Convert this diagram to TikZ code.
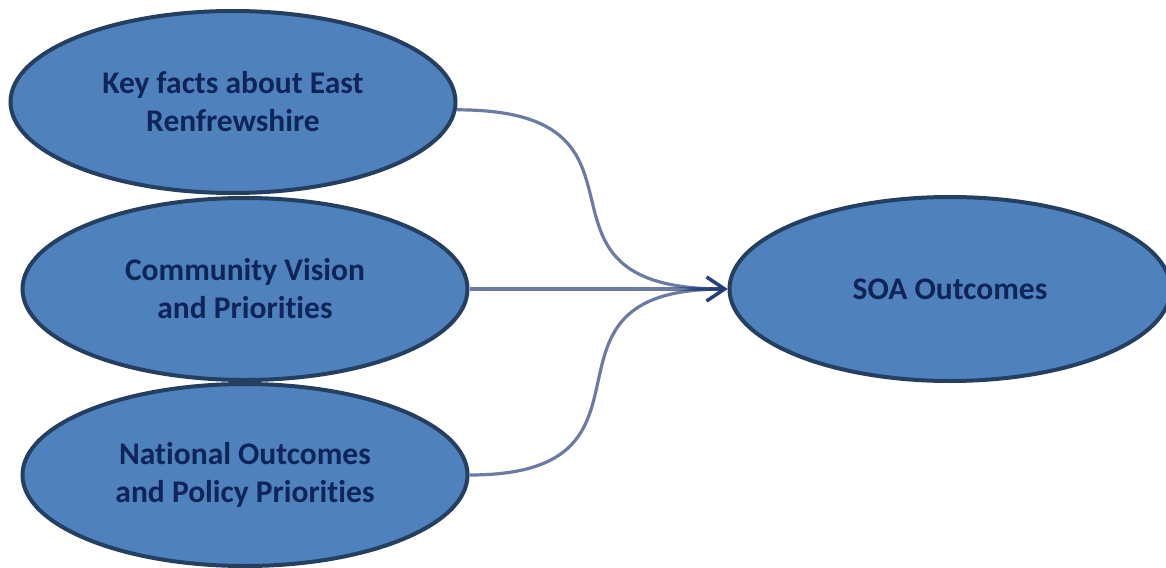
\documentclass[tikz,border=0pt]{standalone}
\usepackage{fontspec}
\setmainfont[Ligatures=NoCommon]{Carlito}
\usetikzlibrary{positioning, arrows.meta, shapes.geometric}
\definecolor{ovalfill}{HTML}{4F81BD}
\definecolor{ovaledge}{HTML}{243F60}
\definecolor{ovaltext}{HTML}{0E255A}
\definecolor{linkblue}{HTML}{1F3874}

\begin{document}
\begin{tikzpicture}[
    x=1pt, y=-1pt,
    oval/.style={ellipse, draw=ovaledge, fill=ovalfill, line width=4pt, minimum width=445pt, minimum height=182pt, inner sep=0pt, align=center, text=ovaltext, font=\fontsize{31.5}{38}\selectfont\bfseries},
    arr/.style={-{Straight Barb[length=18pt, width=24pt]}, line width=3.2pt, draw=linkblue, draw opacity=0.66}
]
\fill[white] (0,0) rectangle (1166,567);
\useasboundingbox (0,0) rectangle (1166,567);

% Input ovals
\node[oval] (facts) at (233,102) {Key facts about East\\Renfrewshire};
\node[oval] (vision) at (245,289) {Community Vision\\and Priorities};
\node[oval] (national) at (245,475) {National Outcomes\\and Policy Priorities};

% Result oval
\node[oval, minimum width=441pt, minimum height=184pt] (soa) at (950,289) {SOA Outcomes};

% Connections
\draw[arr] (facts.-2.5) .. controls +(225,0) and +(-225,0) .. (soa.west);
\draw[arr] (vision.east) -- (soa.west);
\draw[arr] (national.east) .. controls +(215,0) and +(-215,0) .. (soa.west);

\end{tikzpicture}
\end{document}
